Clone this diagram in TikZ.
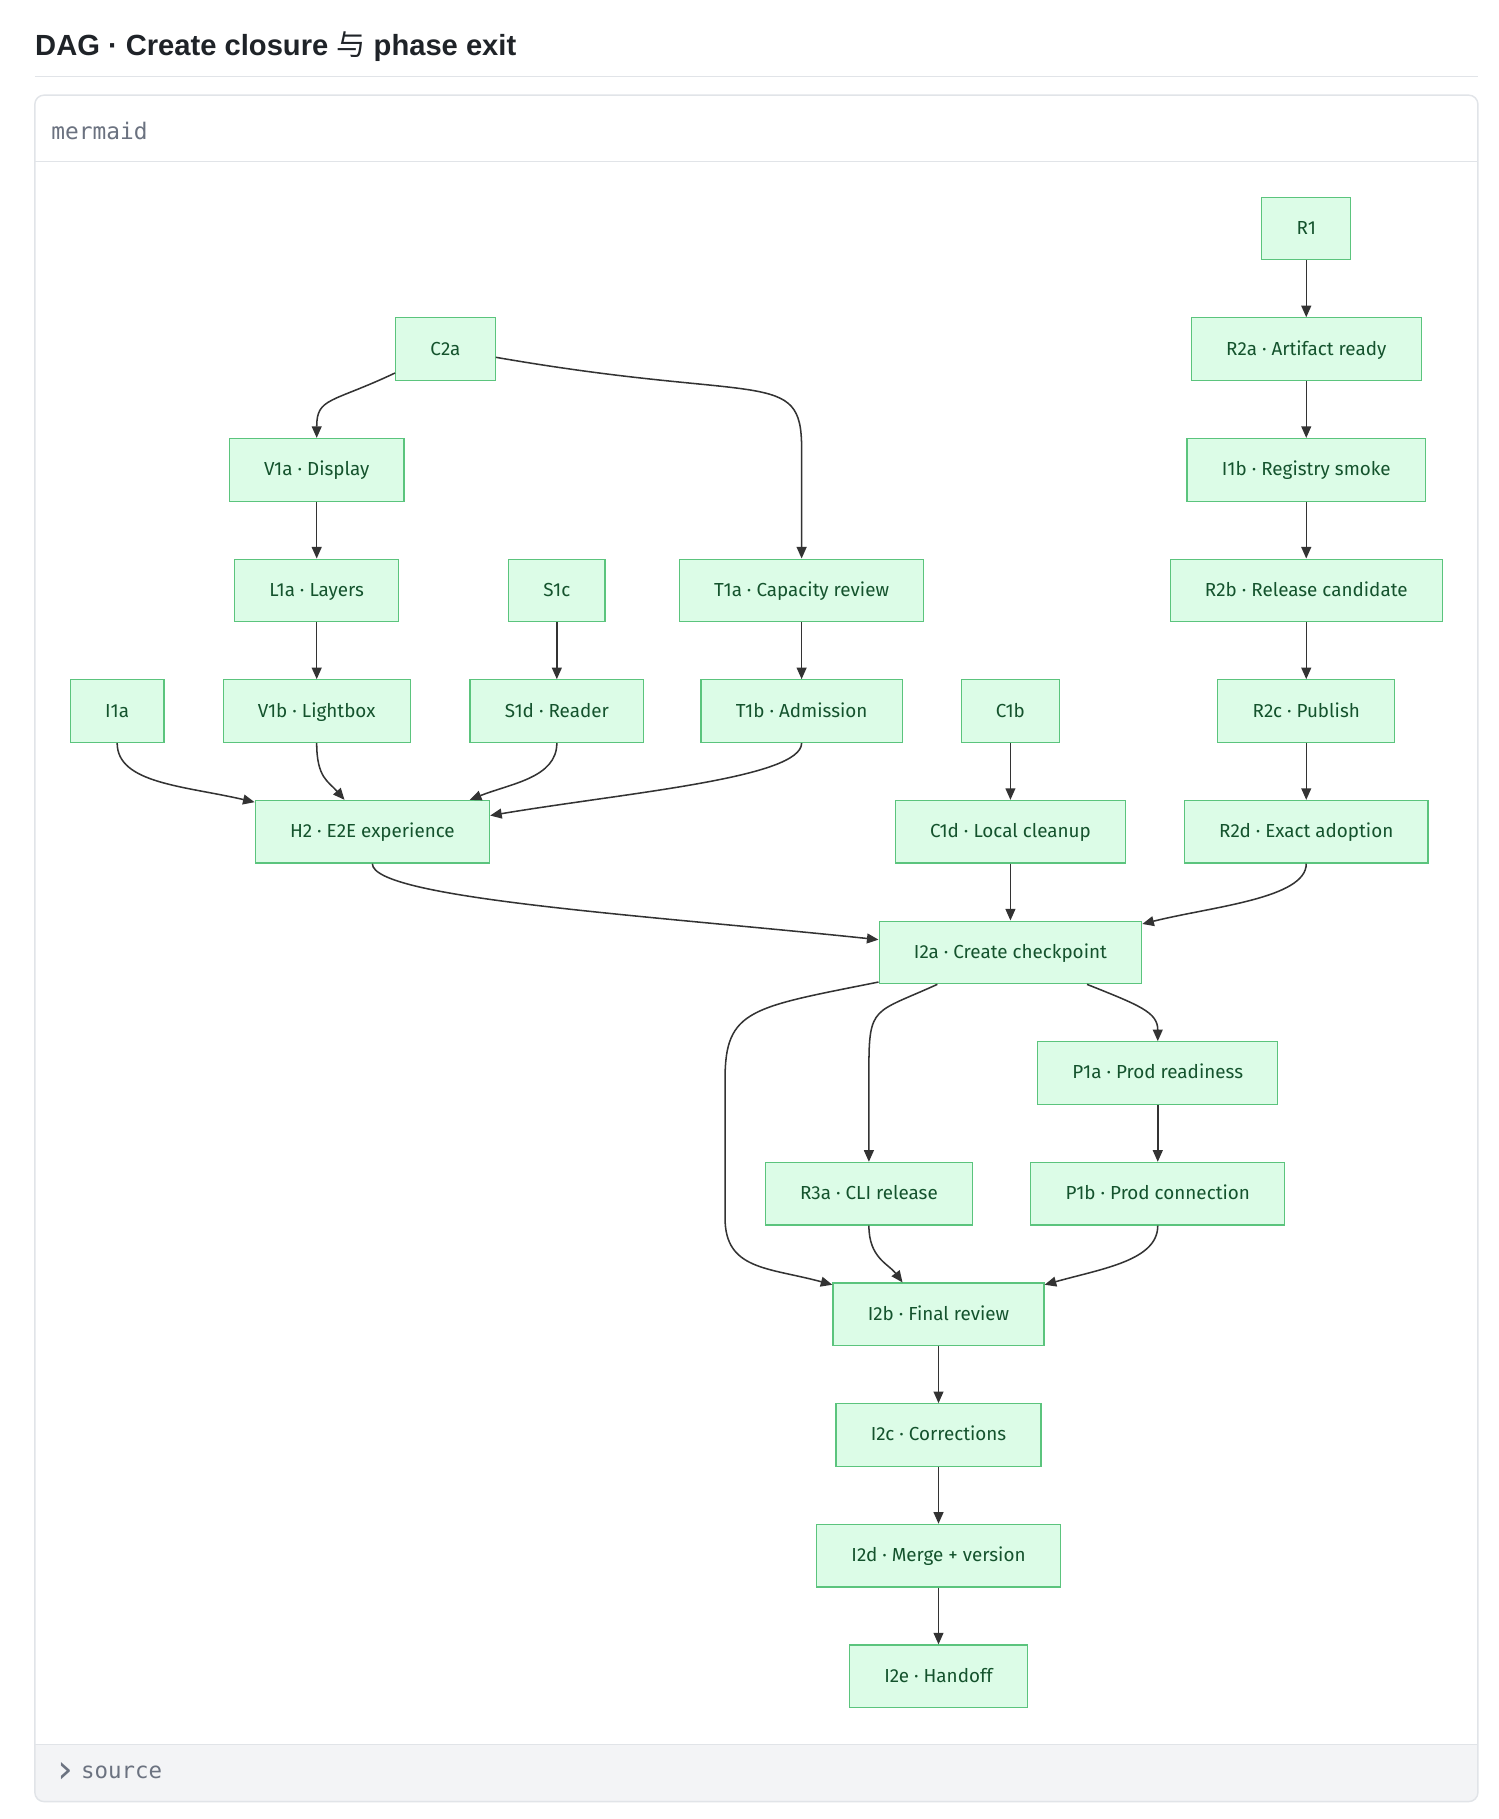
\documentclass[tikz,border=0pt]{standalone}
\usepackage{fontspec}
\usepackage{tikz}
\usetikzlibrary{arrows.meta}
\usepackage{xcolor}
\setmainfont{Fira Sans}
\setmonofont{DejaVu Sans Mono}
\newfontfamily\titlefont{Liberation Sans}
\newfontfamily\cjkfont{Noto Sans CJK SC}
\definecolor{nodefill}{HTML}{DCFCE7}
\definecolor{nodeline}{HTML}{5BC47D}
\definecolor{nodetext}{HTML}{14532D}
\definecolor{edgegray}{HTML}{333333}
\definecolor{cardline}{HTML}{E1E4E8}
\definecolor{footfill}{HTML}{F3F4F6}
\definecolor{labelgray}{HTML}{6B7280}
\definecolor{titletext}{HTML}{1F2328}

\begin{document}
\begin{tikzpicture}[x=0.02cm, y=-0.02cm,
  box/.style={draw=nodeline, fill=nodefill, text=nodetext, line width=0.6pt,
    minimum height=1.08cm, inner xsep=0.6cm, text height=1.5ex, text depth=0.4ex,
    font=\fontsize{9.25}{11}\selectfont},
  edge/.style={draw=edgegray, line width=0.75pt, -{Triangle[length=0.2cm,width=0.17cm]}}]
\useasboundingbox (0,0) rectangle (1292,1568);
\fill [white] (0,0) rectangle (1292,1568);

% page frame
\node [anchor=west, inner sep=0, text=titletext, font=\titlefont\bfseries\fontsize{14.3}{17}\selectfont]
  (title) at (30,40) {DAG · Create closure {\cjkfont\mdseries 与} phase exit};
\draw [cardline, line width=0.6pt] (30,66) -- (1274,66);
\begin{scope}
\clip [rounded corners=0.16cm] (30,82) rectangle (1274,1553);
\fill [footfill] (30,1504) rectangle (1274,1553);
\end{scope}
\draw [cardline, line width=0.6pt] (30,139) -- (1274,139);
\draw [cardline, line width=0.6pt] (30,1504) -- (1274,1504);
\draw [cardline, line width=0.7pt, rounded corners=0.16cm] (30,82) rectangle (1274,1553);
\node [anchor=west, inner sep=0, text=labelgray, font=\ttfamily\fontsize{11.2}{13}\selectfont] (lang) at (44,113) {mermaid};
\node [anchor=west, inner sep=0, text=labelgray, font=\ttfamily\fontsize{11}{13}\selectfont] (src) at (46,1528)
  {\raisebox{-0.35ex}{\fontsize{19}{19}\selectfont ›}\hspace{2pt}source};

% nodes
\node [box] (r1) at (1126,197) {R1};
\node [box] (c2a) at (384,301) {C2a};
\node [box] (r2a) at (1126,301) {R2a · Artifact ready};
\node [box] (v1a) at (273,405) {V1a · Display};
\node [box] (i1b) at (1126,405) {I1b · Registry smoke};
\node [box] (l1a) at (273,509) {L1a · Layers};
\node [box] (s1c) at (480,509) {S1c};
\node [box] (t1a) at (691,509) {T1a · Capacity review};
\node [box] (r2b) at (1126,509) {R2b · Release candidate};
\node [box] (i1a) at (101,613) {I1a};
\node [box] (v1b) at (273,613) {V1b · Lightbox};
\node [box] (s1d) at (480,613) {S1d · Reader};
\node [box] (t1b) at (691,613) {T1b · Admission};
\node [box] (c1b) at (871,613) {C1b};
\node [box] (r2c) at (1126,613) {R2c · Publish};
\node [box] (h2) at (321,717) {H2 · E2E experience};
\node [box] (c1d) at (871,717) {C1d · Local cleanup};
\node [box] (r2d) at (1126,717) {R2d · Exact adoption};
\node [box] (i2a) at (871,821) {I2a · Create checkpoint};
\node [box] (p1a) at (998,925) {P1a · Prod readiness};
\node [box] (r3a) at (749,1029) {R3a · CLI release};
\node [box] (p1b) at (998,1029) {P1b · Prod connection};
\node [box] (i2b) at (809,1133) {I2b · Final review};
\node [box] (i2c) at (809,1237) {I2c · Corrections};
\node [box] (i2d) at (809,1341) {I2d · Merge + version};
\node [box] (i2e) at (809,1445) {I2e · Handoff};

% straight edges
\draw [edge] (r1) -- (r2a);
\draw [edge] (r2a) -- (i1b);
\draw [edge] (i1b) -- (r2b);
\draw [edge] (r2b) -- (r2c);
\draw [edge] (r2c) -- (r2d);
\draw [edge] (v1a) -- (l1a);
\draw [edge] (l1a) -- (v1b);
\draw [edge] (s1c) -- (s1d);
\draw [edge] (t1a) -- (t1b);
\draw [edge] (c1b) -- (c1d);
\draw [edge] (c1d) -- (i2a);
\draw [edge] (p1a) -- (p1b);
\draw [edge] (i2b) -- (i2c);
\draw [edge] (i2c) -- (i2d);
\draw [edge] (i2d) -- (i2e);

% curved edges
\draw [edge] ([shift={(0,-7)}]c2a.south west) .. controls +(-55,26) and +(0,-35) .. (v1a.north);
\draw [edge] ([shift={(0,7)}]c2a.east) .. controls +(230,40) and +(0,-70) .. ([shift={(0,-95)}]t1a.north) -- (t1a.north);
\draw [edge] (i1a.south) .. controls +(0,35) and +(-60,-14) .. ([shift={(0,2)}]h2.north west);
\draw [edge] (v1b.south) .. controls +(0,30) and +(-14,-16) .. ([shift={(-24,0)}]h2.north);
\draw [edge] (s1d.south) .. controls +(0,30) and +(35,-14) .. ([shift={(84,0)}]h2.north);
\draw [edge] (t1b.south) .. controls +(0,30) and +(120,-20) .. ([shift={(0,-14)}]h2.east);
\draw [edge] (h2.south) .. controls +(0,30) and +(-200,-21) .. ([shift={(0,-11)}]i2a.west);
\draw [edge] (r2d.south) .. controls +(0,30) and +(60,-15) .. ([shift={(0,3)}]i2a.north east);
\draw [edge] ([shift={(0,-2)}]i2a.south west) .. controls +(-110,22) and +(0,-60) .. (625,930)
  -- (625,1050) .. controls +(0,45) and +(-55,-15) .. ([shift={(0,2)}]i2b.north west);
\draw [edge] ([shift={(-63,0)}]i2a.south) .. controls +(-55,25) and +(0,-55) .. ([shift={(0,-80)}]r3a.north) -- (r3a.north);
\draw [edge] ([shift={(66,0)}]i2a.south) .. controls +(45,18) and +(0,-25) .. (p1a.north);
\draw [edge] (r3a.south) .. controls +(0,28) and +(-12,-16) .. ([shift={(-31,0)}]i2b.north);
\draw [edge] (p1b.south) .. controls +(0,30) and +(50,-14) .. ([shift={(0,2)}]i2b.north east);
\end{tikzpicture}
\end{document}
